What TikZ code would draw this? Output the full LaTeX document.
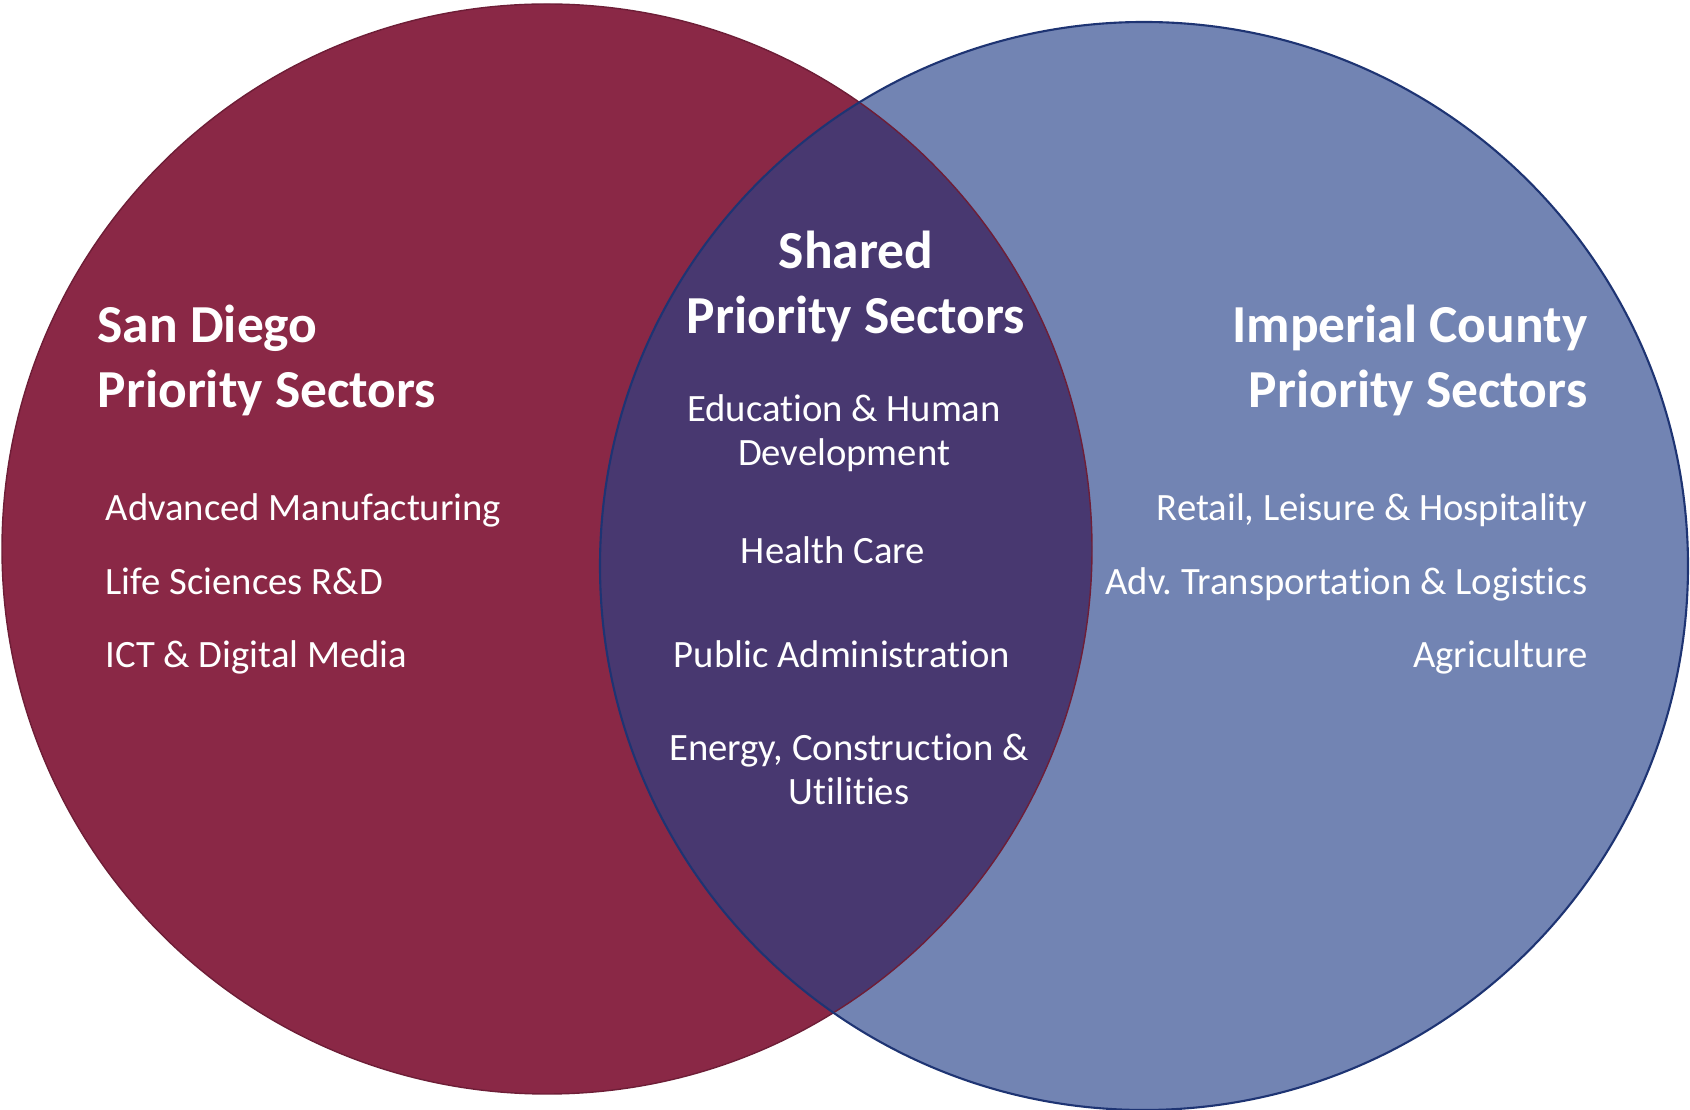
\documentclass[tikz,border=0pt]{standalone}
\usepackage{fontspec}
\setmainfont[Ligatures={NoCommon}]{Carlito}
\frenchspacing
\definecolor{sdred}{RGB}{138,40,70}
\definecolor{icblue}{RGB}{114,132,179}
\definecolor{shared}{RGB}{72,56,112}
\definecolor{icline}{RGB}{30,52,115}
\definecolor{sdline}{RGB}{110,30,55}
\tikzset{
  ttl/.style={font=\fontsize{15.2pt}{18.5pt}\selectfont\bfseries, text=white, inner sep=0pt},
  itm/.style={font=\fontsize{11pt}{12.6pt}\selectfont, text=white, inner sep=0pt},
}
\begin{document}
\begin{tikzpicture}[x=0.01cm,y=-0.01cm]
\useasboundingbox (0,0) rectangle (1690,1110);
% circles
\fill[sdred] (547,549) circle[radius=545];
\fill[icblue] (1144,566) circle[radius=544];
\begin{scope}
  \clip (547,549) circle[radius=545];
  \fill[shared] (1144,566) circle[radius=544];
\end{scope}
\draw[sdline, line width=0.4pt] (547,549) circle[radius=545];
\draw[icline, line width=0.6pt] (1144,566) circle[radius=544];
% San Diego
\node[ttl, anchor=base west, align=left] (sdt) at (97,408) {San Diego\\Priority Sectors};
\node[itm, anchor=base west] (sd1) at (105,521) {Advanced Manufacturing};
\node[itm, anchor=base west] (sd2) at (105,595) {Life Sciences R\&D};
\node[itm, anchor=base west] (sd3) at (105,668) {ICT \& Digital Media};
% Shared
\node[ttl, anchor=base, align=center] (sht) at (856,334) {Shared\\Priority Sectors};
\node[itm, anchor=base, align=center] (sh1) at (844,466) {Education \& Human\\Development};
\node[itm, anchor=base] (sh2) at (833,564) {Health Care};
\node[itm, anchor=base] (sh3) at (842,668) {Public Administration};
\node[itm, anchor=base, align=center] (sh4) at (849,805) {Energy, Construction \&\\Utilities};
% Imperial County
\node[ttl, anchor=base east, align=right] (ict) at (1588,408) {Imperial County\\Priority Sectors};
\node[itm, anchor=base east] (ic1) at (1588,521) {Retail, Leisure \& Hospitality};
\node[itm, anchor=base east] (ic2) at (1588,595) {Adv. Transportation \& Logistics};
\node[itm, anchor=base east] (ic3) at (1588,668) {Agriculture};
\end{tikzpicture}
\end{document}
